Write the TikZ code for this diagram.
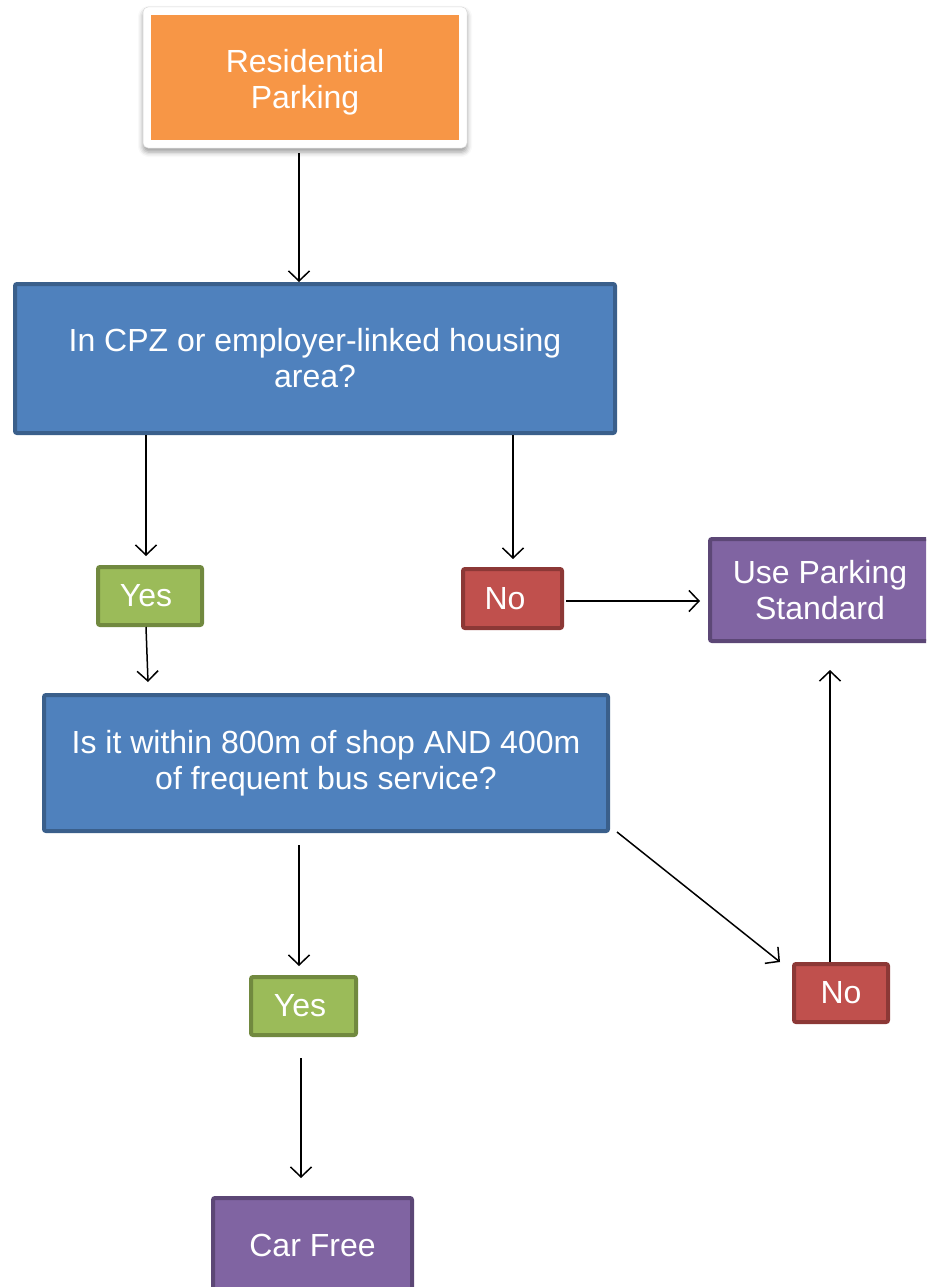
\documentclass[tikz,border=0pt]{standalone}
\usepackage{fontspec}
\setmainfont{Liberation Sans}
\usetikzlibrary{arrows.meta,shadows.blur}
\definecolor{orangefill}{HTML}{F79646}
\definecolor{bluefill}{HTML}{4F81BD}
\definecolor{blueline}{HTML}{3A5F8B}
\definecolor{greenfill}{HTML}{9BBB59}
\definecolor{greenline}{HTML}{71893F}
\definecolor{redfill}{HTML}{C0504D}
\definecolor{redline}{HTML}{8C3836}
\definecolor{purplefill}{HTML}{8064A2}
\definecolor{purpleline}{HTML}{5C4776}
\tikzset{
  boxtext/.style={text=white, align=center, font=\fontsize{32}{36}\selectfont},
  box/.style={draw, line width=4pt, rounded corners=2pt, inner sep=0pt, boxtext},
  bluebox/.style={box, fill=bluefill, draw=blueline},
  greenbox/.style={box, fill=greenfill, draw=greenline},
  redbox/.style={box, fill=redfill, draw=redline},
  purplebox/.style={box, fill=purplefill, draw=purpleline},
  arr/.style={line width=1.5pt, -{Straight Barb[length=10pt,width=21pt,line width=1.5pt]}}
}
\begin{document}
\begin{tikzpicture}[x=1pt,y=-1pt]
\useasboundingbox (0,0) rectangle (926,1287);
\clip (0,0) rectangle (926,1287);
% top box with white frame and shadow
\node[fill=white, draw=white!85!black, line width=0.5pt, rounded corners=5pt, minimum width=324pt, minimum height=141pt, inner sep=0pt,
  blur shadow={shadow xshift=0pt, shadow yshift=-4pt, shadow blur radius=5pt, shadow opacity=40}] (rpf) at (305,77.5) {};
\fill[orangefill] ([xshift=-154pt,yshift=62.5pt]rpf.center) rectangle ([xshift=154pt,yshift=-62.5pt]rpf.center);
\node[boxtext, inner sep=0pt] (rp) at (305,82.5) {Residential\\Parking};
\node[bluebox, minimum width=600pt, minimum height=149pt] (cpz) at (315,358.5) {In CPZ or employer-linked housing\\area?};
\node[greenbox, minimum width=104pt, minimum height=58pt] (yes1) at (150,596) {Yes\hspace*{8pt}};
\node[redbox, minimum width=99pt, minimum height=59pt] (no1) at (512.5,598.5) {No\hspace*{15pt}};
\node[purplebox, minimum width=220pt, minimum height=102pt] (ups) at (820,590) {Use Parking\\Standard};
\node[bluebox, minimum width=564pt, minimum height=136pt] (bus) at (326,763) {Is it within 800m of shop AND 400m\\of frequent bus service?};
\node[greenbox, minimum width=105pt, minimum height=58pt] (yes2) at (303.5,1006) {Yes\hspace*{7pt}};
\node[redbox, minimum width=94pt, minimum height=58pt] (no2) at (841,993) {No};
\node[purplebox, minimum width=199pt, minimum height=94pt] (car) at (312.5,1245) {Car Free};
% connectors
\draw[arr] ([xshift=-6pt,yshift=-5pt]rpf.south) -- ([xshift=-16pt]cpz.north);
\draw[arr] ([xshift=-169pt]cpz.south) -- ([xshift=-4pt,yshift=9pt]yes1.north);
\draw[arr] ([xshift=198pt]cpz.south) -- ([xshift=0.5pt,yshift=8pt]no1.north);
\draw[arr] ([xshift=2pt,yshift=-2.5pt]no1.east) -- ([xshift=-8pt,yshift=-11pt]ups.west);
\draw[arr] ([xshift=-4pt]yes1.south) -- ([xshift=-178pt,yshift=11pt]bus.north);
\draw[arr] ([xshift=-27pt,yshift=-12pt]bus.south) -- ([xshift=-4.5pt,yshift=9pt]yes2.north);
\draw[arr] ([xshift=7pt,yshift=1pt]bus.south east) -- ([xshift=-12pt]no2.north west);
\draw[arr] ([xshift=-11pt]no2.north) -- ([xshift=10pt,yshift=-27pt]ups.south);
\draw[arr] ([xshift=-2.5pt,yshift=-21pt]yes2.south) -- ([xshift=-11.5pt,yshift=18pt]car.north);
\end{tikzpicture}
\end{document}
